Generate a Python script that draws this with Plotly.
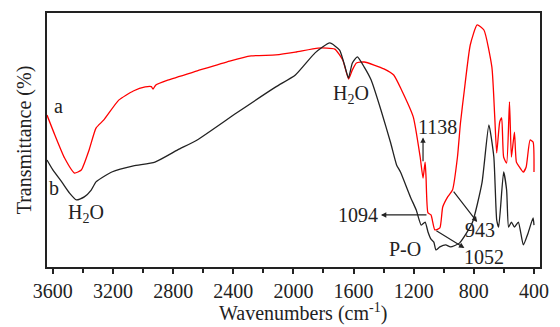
import plotly.graph_objects as go

# Curve a (red)
wn_a = [3639, 3587, 3522, 3456, 3411, 3359, 3313, 3261, 3162, 3065, 2986, 2945, 2934, 2915, 2836, 2640,
        2424, 2281, 2117, 1987, 1836, 1725, 1672, 1633, 1608, 1581, 1529, 1398, 1333, 1281, 1203,
        1157, 1138, 1124, 1118, 1105, 1085, 1059, 1026, 1007, 974, 942, 909, 889, 863, 824,
        778, 733, 680, 661, 648, 628, 615, 602, 582, 563, 550, 530, 517, 497, 471, 452, 426, 406, 400]
t_a = [59.8, 52.0, 42.9, 37.0, 38.2, 46.1, 54.7, 57.9, 65.7, 69.3, 70.9, 71.0, 70.0, 71.7, 73.6, 77.2,
       81.1, 83.1, 83.5, 84.6, 86.2, 85.8, 81.5, 74.0, 77.6, 80.3, 80.7, 78.0, 75.6, 69.7, 59.1,
       43.3, 35.0, 41.3, 35.4, 21.3, 20.5, 14.6, 15.4, 23.6, 27.6, 30.3, 43.3, 56.7, 69.7, 87.4,
       95.3, 93.3, 78.7, 59.1, 44.9, 57.1, 58.7, 43.3, 40.9, 65.0, 43.3, 53.1, 41.3, 39.4, 37.4, 39.4, 50.0, 49.2, 37.4]

# Curve b (black)
wn_b = [3639, 3600, 3541, 3489, 3443, 3391, 3345, 3313, 3250, 3208, 3064, 2921, 2770, 2640, 2379, 2117,
        1987, 1856, 1758, 1693, 1660, 1634, 1608, 1575, 1529, 1483, 1418, 1353, 1314, 1288, 1222,
        1183, 1150, 1124, 1105, 1085, 1066, 1052, 1026, 987, 955, 896, 811, 746, 700, 667,
        648, 635, 602, 582, 569, 550, 530, 504, 471, 439, 406, 400]
t_b = [42.1, 38.2, 33.5, 29.1, 26.4, 27.6, 30.3, 33.5, 36.0, 37.4, 39.8, 41.3, 46.1, 50.0, 60.6, 70.9,
       75.6, 84.3, 88.2, 85.4, 79.5, 74.4, 80.3, 82.7, 78.7, 73.6, 61.8, 48.8, 40.2, 37.4, 27.6,
       22.4, 16.5, 17.7, 13.8, 11.0, 9.8, 6.7, 7.9, 8.7, 7.9, 9.4, 17.3, 33.1, 55.9, 43.3,
       18.5, 15.7, 37.4, 30.3, 15.7, 17.7, 15.7, 17.7, 8.7, 13.4, 19.3, 16.5]

tick_vals = [3600, 3200, 2800, 2400, 2000, 1600, 1200, 800, 400]
tick_text = [str(v) for v in tick_vals]

FONT = "'Liberation Serif', 'Times New Roman', serif"

fig = go.Figure()
fig.add_trace(go.Scatter(x=wn_a, y=t_a, mode="lines",
                         line=dict(color="#ff0000", width=1.3, shape="spline", smoothing=0.5), showlegend=False))
fig.add_trace(go.Scatter(x=wn_b, y=t_b, mode="lines",
                         line=dict(color="#222222", width=1.3, shape="spline", smoothing=0.5), showlegend=False))

def txt(x, y, s, **kw):
    fig.add_annotation(x=x, y=y, text=s, showarrow=False, xref="x", yref="y",
                       font=dict(family=FONT, size=20, color="#222"), **kw)

def arrow(x0, y0, x1, y1):
    fig.add_annotation(x=x1, y=y1, ax=x0, ay=y0, axref="x", ayref="y", xref="x", yref="y",
                       text="", showarrow=True, arrowhead=2, arrowsize=0.9, arrowwidth=1.2,
                       arrowcolor="#222")

txt(3565, 63.5, "a")
txt(3595, 31, "b")
txt(3378, 21, "H<sub>2</sub>O")
txt(1615, 68, "H<sub>2</sub>O")
txt(1040, 55, "1138")
txt(1570, 20.5, "1094")
txt(762, 14.5, "943")
txt(732, 4, "1052")
txt(1255, 7, "P-O")

arrow(1138, 41, 1138, 51)
arrow(1105, 20.5, 1418, 20.5)
arrow(942, 30.3, 778, 17.7)
arrow(1059, 14.6, 863, 7.5)

fig.add_annotation(x=0.52, y=-0.18, xref="paper", yref="paper", showarrow=False,
                   xanchor="center", yanchor="middle",
                   text="Wavenumbers (cm<sup>-1</sup>)", font=dict(family=FONT, size=20, color="#222"))

fig.update_layout(
    width=560, height=327,
    margin=dict(l=47, r=11, t=13, b=60),
    plot_bgcolor="white", paper_bgcolor="white",
    font=dict(family=FONT, size=20, color="#222"),
    xaxis=dict(range=[3639, 360], showline=True, linewidth=2, linecolor="#222", mirror=True,
               showgrid=False, zeroline=False, tickvals=tick_vals, ticktext=tick_text,
               ticks="outside", ticklen=5, tickwidth=1.5, tickcolor="#222",
               minor=dict(dtick=200, tick0=0, ticks="outside", ticklen=4, tickwidth=1.5, tickcolor="#222"),
               tickfont=dict(family=FONT, size=20)),
    yaxis=dict(range=[0, 100], showline=True, linewidth=2, linecolor="#222", mirror=True,
               showgrid=False, zeroline=False, showticklabels=False, ticks="",
               title=dict(text="Transmittance (%)", font=dict(family=FONT, size=20), standoff=8)),
)

fig.write_html("out.html")
